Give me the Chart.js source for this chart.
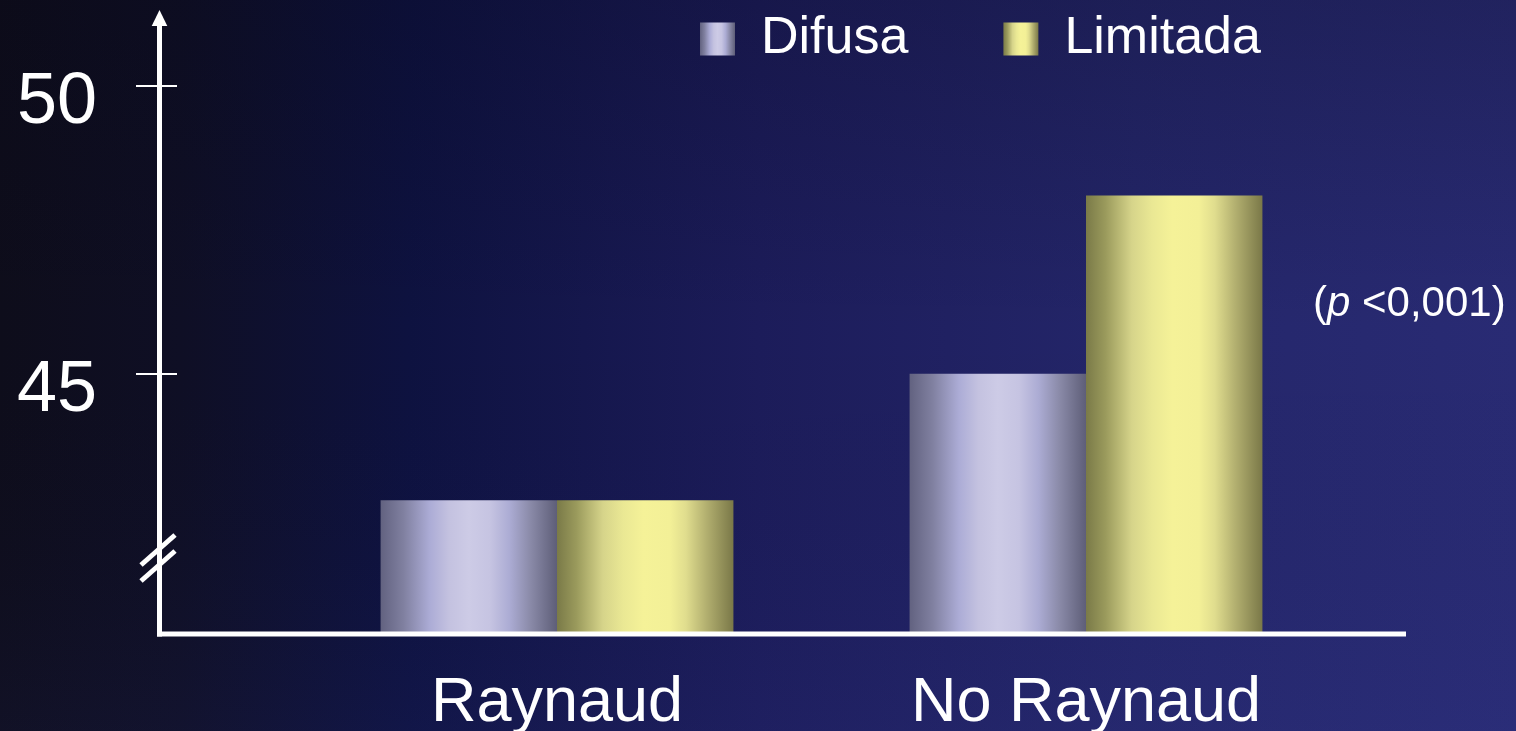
<!DOCTYPE html>
<html>
<head>
<meta charset="utf-8">
<script src="https://cdn.jsdelivr.net/npm/chart.js@4.4.1/dist/chart.umd.min.js"></script>
<style>
  html, body { margin: 0; padding: 0; background: #0f0f1e; overflow: hidden; }
  canvas { display: block; }
</style>
</head>
<body>
<canvas id="c" width="1516" height="731"></canvas>
<script>
// ---- data ----
const categories = ['Raynaud', 'No Raynaud'];
const seriesNames = ['Difusa', 'Limitada'];
const difusaValues = [42.8, 45.0];
const limitadaValues = [42.8, 48.1];
const yTickValues = [45, 50];
const pValueNote = ['(', 'p', ' <0,001)'];

// ---- styling ----
const FONT = '"Liberation Sans", Arial, Helvetica, sans-serif';
const CAT_PCT = 0.667;
const difusaStops = [[0,'#626280'],[0.13,'#8080a0'],[0.28,'#acacd6'],[0.39,'#c4c2e0'],[0.5,'#cdcbe6'],[0.62,'#c6c4e2'],[0.73,'#acacd4'],[0.85,'#8a8aa8'],[1,'#5e5e78']];
const limitadaStops = [[0,'#7a7a48'],[0.11,'#9a9a5c'],[0.26,'#d6d48a'],[0.375,'#eae894'],[0.49,'#f5f298'],[0.64,'#f3f097'],[0.73,'#e0dd8e'],[0.845,'#b3b070'],[1,'#7a7848']];
const LEG_X = 700, LEG_Y = 13, LEG_PAD = 95, LEG_FONT = 52, LEG_BOX_W = 35, LEG_BOX_H = 33;

function hGrad(ctx, x0, x1, stops) {
  const g = ctx.createLinearGradient(x0, 0, x1, 0);
  stops.forEach(s => g.addColorStop(s[0], s[1]));
  return g;
}

function barFill(stops, side) {
  return (c) => {
    const chart = c.chart;
    const xs = chart.scales && chart.scales.x;
    if (!xs || c.dataIndex === undefined || !xs.width) return stops[4][1];
    const center = xs.getPixelForTick(c.dataIndex);
    const w = (xs.width / categories.length) * CAT_PCT / 2;
    const x0 = side === 0 ? center - w : center;
    return hGrad(chart.ctx, x0, x0 + w, stops);
  };
}

const bgPlugin = {
  id: 'bg',
  beforeDraw(chart) {
    const { ctx, width: W, height: H } = chart;
    ctx.save();
    const g = ctx.createLinearGradient(0, 0, W, 0);
    g.addColorStop(0, '#0e0d1b');
    g.addColorStop(0.12, '#0f0f25');
    g.addColorStop(0.27, '#0e1240');
    g.addColorStop(0.5, '#1c1c5a');
    g.addColorStop(0.75, '#24266a');
    g.addColorStop(1, '#292b74');
    ctx.fillStyle = g;
    ctx.fillRect(0, 0, W, H);
    const v = ctx.createLinearGradient(0, 0, 0, H);
    v.addColorStop(0, 'rgba(5,5,20,0.22)');
    v.addColorStop(0.45, 'rgba(5,5,20,0)');
    v.addColorStop(1, 'rgba(60,70,170,0.08)');
    ctx.fillStyle = v;
    ctx.fillRect(0, 0, W, H);
    ctx.restore();
  }
};

const legendPlace = {
  id: 'legendPlace',
  beforeLayout(chart) {
    const lg = chart.legend;
    if (lg && !lg._zeroPatched) {
      const origFit = lg.fit;
      lg.fit = function () { origFit.call(this); this.height = 0; };
      lg._zeroPatched = true;
    }
  },
  afterUpdate(chart) {
    const lg = chart.legend;
    if (!lg) return;
    lg.left = LEG_X - LEG_PAD;
    lg.right = chart.width;
    lg.top = LEG_Y - LEG_PAD;
    lg.bottom = LEG_Y + 80;
    lg.width = lg.right - lg.left;
    lg.height = lg.bottom - lg.top;
  }
};

const axesPlugin = {
  id: 'axesDeco',
  afterDraw(chart) {
    const { ctx } = chart;
    const ys = chart.scales.y;
    const AX_X = 159.5;
    const bottom = chart.chartArea.bottom + 1.5;
    ctx.save();
    ctx.strokeStyle = '#ffffff';
    ctx.fillStyle = '#ffffff';
    ctx.lineCap = 'butt';
    // x axis
    ctx.lineWidth = 5;
    ctx.beginPath(); ctx.moveTo(157, bottom); ctx.lineTo(1406, bottom); ctx.stroke();
    // y axis
    ctx.beginPath(); ctx.moveTo(AX_X, bottom + 2.5); ctx.lineTo(AX_X, 24); ctx.stroke();
    // arrow head
    ctx.beginPath(); ctx.moveTo(AX_X, 10); ctx.lineTo(AX_X + 7.8, 26); ctx.lineTo(AX_X - 7.8, 26); ctx.closePath(); ctx.fill();
    // tick marks
    ctx.lineWidth = 2;
    yTickValues.forEach(v => {
      const y = Math.round(ys.getPixelForValue(v));
      ctx.beginPath(); ctx.moveTo(136, y); ctx.lineTo(177, y); ctx.stroke();
    });
    // axis break marks
    ctx.lineWidth = 5;
    ctx.beginPath(); ctx.moveTo(141, bottom - 69); ctx.lineTo(175, bottom - 99); ctx.stroke();
    ctx.beginPath(); ctx.moveTo(141, bottom - 53); ctx.lineTo(175, bottom - 83); ctx.stroke();
    // p-value note
    ctx.textBaseline = 'alphabetic';
    ctx.textAlign = 'left';
    let x = 1313;
    const yb = 316;
    ctx.font = `42px ${FONT}`;
    ctx.fillText(pValueNote[0], x, yb); x += ctx.measureText(pValueNote[0]).width;
    ctx.font = `italic 42px ${FONT}`;
    ctx.fillText(pValueNote[1], x, yb); x += ctx.measureText(pValueNote[1]).width;
    ctx.font = `42px ${FONT}`;
    ctx.fillText(pValueNote[2], x, yb);
    ctx.restore();
  }
};

new Chart(document.getElementById('c'), {
  type: 'bar',
  data: {
    labels: categories,
    datasets: [
      { label: seriesNames[0], data: difusaValues, backgroundColor: barFill(difusaStops, 0), borderWidth: 0 },
      { label: seriesNames[1], data: limitadaValues, backgroundColor: barFill(limitadaStops, 1), borderWidth: 0 }
    ]
  },
  options: {
    responsive: false,
    animation: false,
    devicePixelRatio: 1,
    layout: { padding: { left: 17, right: 165.5, top: 0, bottom: 0 } },
    datasets: { bar: { categoryPercentage: CAT_PCT, barPercentage: 1.0 } },
    scales: {
      x: {
        afterFit: (s) => { s.height = 98.5; s.paddingLeft = 0; s.paddingRight = 0; },
        grid: { display: false },
        border: { display: false },
        ticks: { color: '#ffffff', font: { family: FONT, size: 63 }, padding: 25, maxRotation: 0, autoSkip: false }
      },
      y: {
        min: 40.5,
        max: 51.5,
        afterBuildTicks: (s) => { s.ticks = yTickValues.map(v => ({ value: v })); },
        afterFit: (s) => { s.width = 275.5; s.paddingTop = 0; s.paddingBottom = 0; },
        grid: { display: false },
        border: { display: false },
        ticks: { color: '#ffffff', font: { family: FONT, size: 72 }, padding: 0, crossAlign: 'far', labelOffset: 17 }
      }
    },
    plugins: {
      tooltip: { enabled: false },
      legend: {
        position: 'top',
        align: 'start',
        labels: {
          color: '#ffffff',
          font: { family: FONT, size: LEG_FONT },
          boxWidth: LEG_BOX_W,
          boxHeight: LEG_BOX_H,
          padding: LEG_PAD,
          generateLabels: (chart) => {
            const ctx = chart.ctx;
            ctx.save();
            ctx.font = `${LEG_FONT}px ${FONT}`;
            let x = LEG_X;
            const items = seriesNames.map((name, i) => {
              const item = {
                text: name,
                fillStyle: hGrad(ctx, x, x + LEG_BOX_W, i === 0 ? difusaStops : limitadaStops),
                strokeStyle: 'rgba(0,0,0,0)',
                lineWidth: 0,
                fontColor: '#ffffff',
                datasetIndex: i,
                hidden: false
              };
              x += LEG_BOX_W + LEG_FONT / 2 + ctx.measureText(name).width + LEG_PAD;
              return item;
            });
            ctx.restore();
            return items;
          }
        }
      }
    }
  },
  plugins: [bgPlugin, legendPlace, axesPlugin]
});
</script>
</body>
</html>
